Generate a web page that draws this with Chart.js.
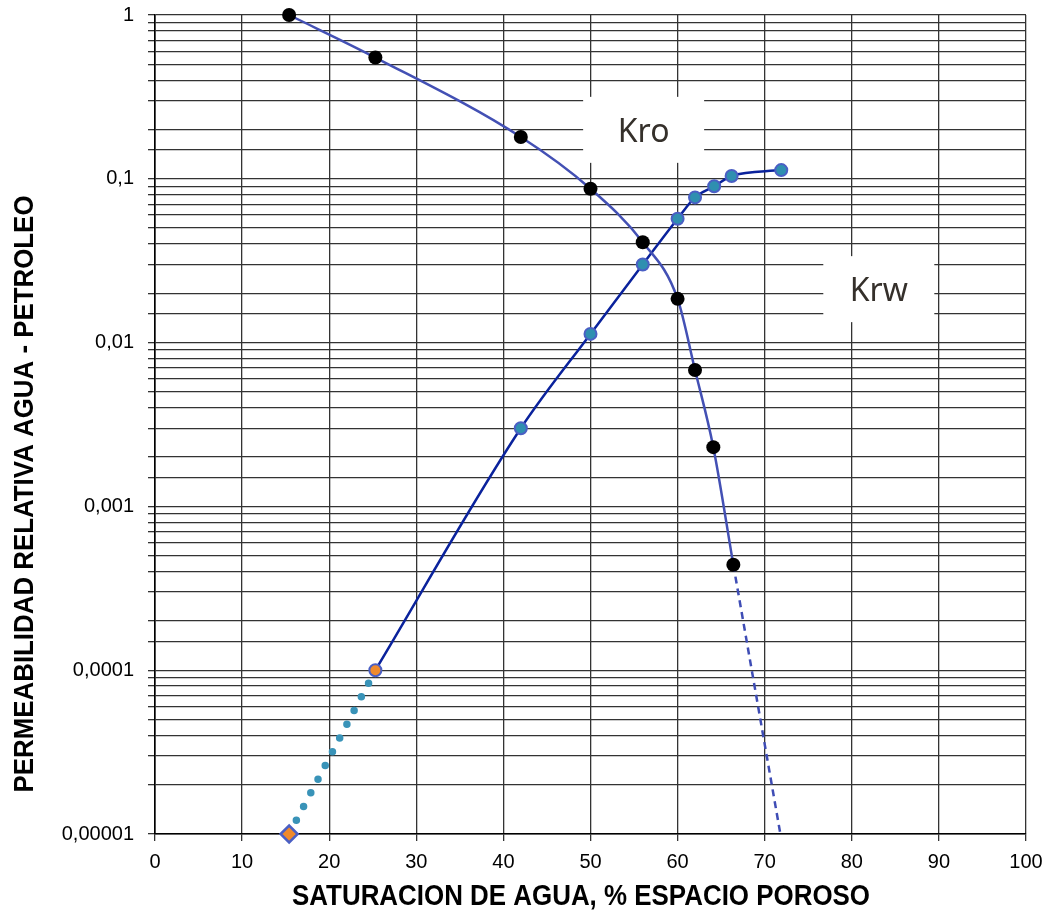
<!DOCTYPE html>
<html lang="es">
<head>
  <meta charset="UTF-8">
  <title>Permeabilidad relativa agua - petroleo</title>
  <style>
    body {
      margin: 0;
      background: #ffffff;
      overflow: hidden;
    }
    #wrap {
      position: relative;
      width: 1047px;
      height: 916px;
    }
  </style>
  <script src="https://cdn.jsdelivr.net/npm/chart.js"></script>
</head>
<body>

  <div id="wrap">
    <canvas id="myChart"></canvas>
  </div>

  <script>
    // Kro (petroleo) - puntos medidos
    const kroSw  = [15.4, 25.3, 42, 50, 56, 60, 62, 64.1, 66.4];
    const kroVal = [1.0, 0.55, 0.18, 0.087, 0.041, 0.0185, 0.0068, 0.0023, 0.00044];

    // Kro extrapolado (linea a trazos)
    const kroExtSw  = [66.4, 71.8];
    const kroExtVal = [0.00044, 0.00001];

    // Krw (agua) - puntos medidos
    const krwSw  = [25.3, 42, 50, 56, 60, 62, 64.2, 66.2, 71.9];
    const krwVal = [0.0001, 0.0030, 0.0113, 0.030, 0.057, 0.077, 0.090, 0.104, 0.113];

    // Krw extrapolado (linea punteada)
    const krwExtSw  = [15.4, 25.3];
    const krwExtVal = [0.00001, 0.0001];

    // Ejes
    const xTicks = [0, 10, 20, 30, 40, 50, 60, 70, 80, 90, 100];
    const yTickValues = [1, 0.1, 0.01, 0.001, 0.0001, 0.00001];
    const yTickLabels = ['1', '0,1', '0,01', '0,001', '0,0001', '0,00001'];
    const xTitle = 'SATURACION DE AGUA, % ESPACIO POROSO';
    const yTitle = 'PERMEABILIDAD RELATIVA AGUA - PETROLEO';

    // Etiquetas de curva (posicion en unidades de datos)
    const curveLabels = ['Kro', 'Krw'];
    const curveLabelSw = [56.1, 83.1];
    const curveLabelK = [0.199, 0.0212];

    const toPts = (xs, ys) => xs.map((x, i) => ({ x: x, y: ys[i] }));

    const arial = "'Liberation Sans', Arial, sans-serif";

    // cajas blancas con Kro / Krw
    const labelBoxes = {
      id: 'labelBoxes',
      beforeDatasetsDraw(chart) {
        const ctx = chart.ctx;
        const xs = chart.scales.x, ys = chart.scales.y;
        const sizes = [[121, 66], [111, 66]];
        ctx.save();
        curveLabels.forEach((txt, i) => {
          const cx = xs.getPixelForValue(curveLabelSw[i]);
          const cy = ys.getPixelForValue(curveLabelK[i]);
          const w = sizes[i][0], h = sizes[i][1];
          ctx.fillStyle = '#ffffff';
          ctx.fillRect(cx - w / 2, cy - h / 2, w, h);
          ctx.fillStyle = '#35302b';
          ctx.font = "32px 'Noto Sans', 'Open Sans', sans-serif";
          ctx.textAlign = 'center';
          ctx.textBaseline = 'middle';
          ctx.fillText(txt, cx, cy + 3);
        });
        ctx.restore();
      }
    };

    // titulos de ejes en letra estrecha (comprimida al ancho del original)
    function narrowText(ctx, text, cx, cy, width, size, angle) {
      ctx.save();
      ctx.font = 'bold ' + size + 'px ' + arial;
      const k = width / ctx.measureText(text).width;
      ctx.translate(cx, cy);
      ctx.rotate(angle);
      ctx.scale(k, 1);
      ctx.fillStyle = '#000000';
      ctx.textAlign = 'center';
      ctx.textBaseline = 'middle';
      ctx.fillText(text, 0, 0);
      ctx.restore();
    }

    const axisTitles = {
      id: 'axisTitles',
      afterDraw(chart) {
        const ctx = chart.ctx;
        narrowText(ctx, xTitle, 581, 897, 578, 29, 0);
        narrowText(ctx, yTitle, 25, 494, 597, 28, -Math.PI / 2);
      }
    };

    const ctx = document.getElementById('myChart').getContext('2d');

    const chart = new Chart(ctx, {
      type: 'scatter',
      data: {
        datasets: [
          {
            // Krw extrapolado punteado
            data: toPts(krwExtSw, krwExtVal),
            showLine: true,
            borderColor: '#3993b8',
            borderWidth: 7.5,
            borderDash: [0, 15.5],
            borderCapStyle: 'round',
            pointRadius: 0,
            order: 5
          },
          {
            // Kro extrapolado a trazos
            data: toPts(kroExtSw, kroExtVal),
            showLine: true,
            borderColor: '#3f4db5',
            borderWidth: 2.5,
            borderDash: [7, 5],
            pointRadius: 0,
            order: 4
          },
          {
            label: 'Kro',
            data: toPts(kroSw, kroVal),
            showLine: true,
            clip: false,
            cubicInterpolationMode: 'monotone',
            borderColor: '#4350b4',
            borderWidth: 2.5,
            pointRadius: 7,
            pointBackgroundColor: '#000000',
            pointBorderColor: '#000000',
            pointBorderWidth: 0,
            order: 2
          },
          {
            label: 'Krw',
            data: toPts(krwSw, krwVal),
            showLine: true,
            clip: false,
            cubicInterpolationMode: 'monotone',
            borderColor: '#0a229c',
            borderWidth: 2.5,
            pointRadius: 6,
            pointBackgroundColor: krwSw.map((s, i) => i === 0 ? '#ef8a2c' : '#2f8fb0'),
            pointBorderColor: '#4a5fc4',
            pointBorderWidth: 2,
            order: 3
          },
          {
            // punto inicial de Krw (rombo)
            data: toPts(krwExtSw.slice(0, 1), krwExtVal.slice(0, 1)),
            clip: false,
            pointStyle: 'rectRot',
            pointRadius: 8.5,
            pointBackgroundColor: '#ef8a2c',
            pointBorderColor: '#4a5fc4',
            pointBorderWidth: 2.5,
            order: 1
          }
        ]
      },
      options: {
        responsive: true,
        maintainAspectRatio: false,
        animation: false,
        layout: {
          padding: { top: 15, right: 21, left: 0, bottom: 0 }
        },
        plugins: {
          legend: { display: false },
          tooltip: { enabled: false }
        },
        scales: {
          x: {
            type: 'linear',
            min: 0,
            max: 100,
            afterBuildTicks: (scale) => {
              scale.ticks = xTicks.map(v => ({ value: v }));
            },
            afterFit: (scale) => {
              scale.height = 82;
              scale.paddingLeft = 0;
              scale.paddingRight = 0;
            },
            ticks: {
              autoSkip: false,
              maxRotation: 0,
              padding: 9,
              color: '#000000',
              font: { family: arial, size: 20 }
            },
            grid: {
              color: '#333333',
              lineWidth: 1.3,
              tickLength: 7
            },
            border: { color: '#000000', width: 1.6 }
          },
          y: {
            type: 'logarithmic',
            min: 0.00001,
            max: 1,
            afterFit: (scale) => {
              scale.width = 155;
              scale.paddingTop = 0;
              scale.paddingBottom = 0;
            },
            ticks: {
              autoSkip: false,
              padding: 14,
              color: '#000000',
              font: { family: arial, size: 20 },
              callback: (value) => {
                const i = yTickValues.findIndex(v => Math.abs(v - value) / v < 1e-6);
                return i >= 0 ? yTickLabels[i] : '';
              }
            },
            grid: {
              color: '#333333',
              lineWidth: 1.3,
              tickLength: 7
            },
            border: { color: '#000000', width: 1.6 }
          }
        }
      },
      plugins: [labelBoxes, axisTitles]
    });
  </script>

</body>
</html>
